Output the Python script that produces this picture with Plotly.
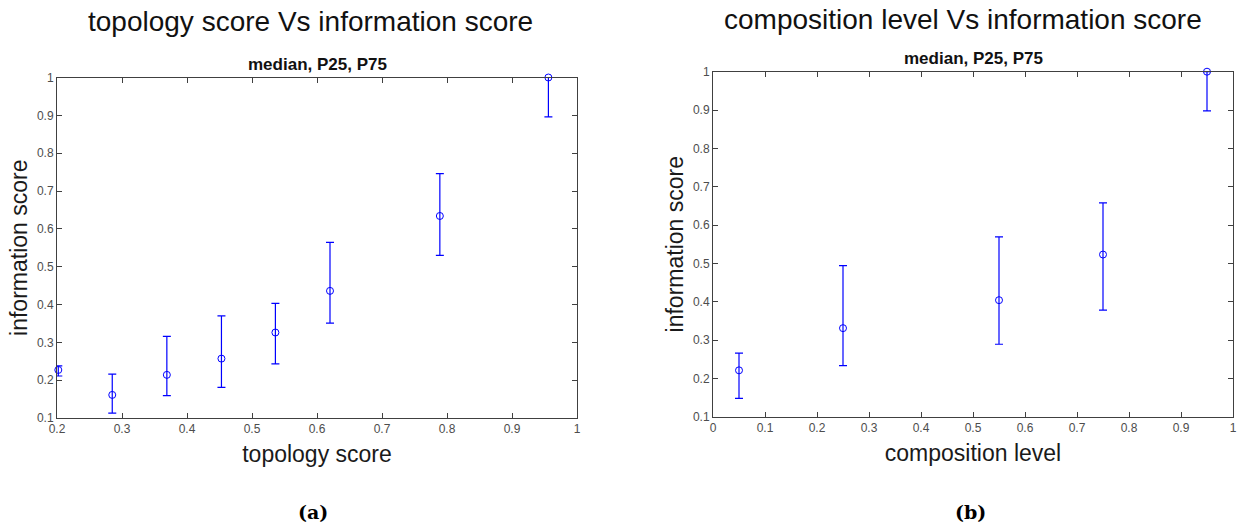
import plotly.graph_objects as go

W, H = 1238, 525

# Left panel: topology score vs information score
topo_x = [0.202, 0.285, 0.369, 0.453, 0.536, 0.620, 0.789, 0.956]
topo_med = [0.227, 0.161, 0.214, 0.257, 0.326, 0.436, 0.634, 1.0]
topo_p25 = [0.211, 0.113, 0.159, 0.181, 0.243, 0.351, 0.530, 0.896]
topo_p75 = [0.238, 0.216, 0.316, 0.370, 0.403, 0.564, 0.746, 1.0]

# Right panel: composition level vs information score
comp_x = [0.05, 0.25, 0.55, 0.75, 0.95]
comp_med = [0.221, 0.331, 0.404, 0.523, 1.0]
comp_p25 = [0.148, 0.233, 0.289, 0.378, 0.898]
comp_p75 = [0.266, 0.494, 0.569, 0.658, 1.0]

x1_ticks = [0.2, 0.3, 0.4, 0.5, 0.6, 0.7, 0.8, 0.9, 1.0]
x2_ticks = [0, 0.1, 0.2, 0.3, 0.4, 0.5, 0.6, 0.7, 0.8, 0.9, 1.0]
y_ticks = [0.1, 0.2, 0.3, 0.4, 0.5, 0.6, 0.7, 0.8, 0.9, 1.0]

BLUE = "rgb(0,0,255)"
AXC = "#404040"


def px_x(p):
    return p / W


def px_y(p):
    return 1 - p / H


def trace(x, med, p25, p75, xa, ya):
    return go.Scatter(
        x=x, y=med, mode="markers", xaxis=xa, yaxis=ya,
        marker=dict(symbol="circle-open", size=7, color=BLUE, line=dict(width=1, color=BLUE)),
        error_y=dict(type="data", symmetric=False,
                     array=[a - m for a, m in zip(p75, med)],
                     arrayminus=[m - b for m, b in zip(med, p25)],
                     color=BLUE, thickness=1.2, width=4),
        cliponaxis=False, showlegend=False,
    )


fig = go.Figure()
fig.add_trace(trace(topo_x, topo_med, topo_p25, topo_p75, "x", "y"))
fig.add_trace(trace(comp_x, comp_med, comp_p25, comp_p75, "x2", "y2"))

axis_common = dict(
    automargin=False,
    showgrid=False, zeroline=False, showline=True, linecolor=AXC, linewidth=1,
    mirror="ticks", ticks="inside", ticklen=5, tickcolor=AXC, tickwidth=1,
    tickfont=dict(family="Liberation Sans, Arial", size=12, color="#4d4d4d"),
    title_font=dict(family="Liberation Sans, Arial", size=23, color="#1a1a1a"),
)

fig.update_layout(
    width=W, height=H, margin=dict(l=0, r=0, t=0, b=0, autoexpand=False),
    paper_bgcolor="white", plot_bgcolor="white",
    xaxis=dict(domain=[px_x(57), px_x(577)], range=[0.2, 1.0], tickvals=x1_ticks,
               anchor="y", title=dict(text="topology score", standoff=10), **axis_common),
    yaxis=dict(domain=[px_y(418), px_y(77.5)], range=[0.1, 1.0], tickvals=y_ticks,
               anchor="x", title=dict(text="information score", standoff=2), **axis_common),
    xaxis2=dict(domain=[px_x(713), px_x(1233)], range=[0, 1.0], tickvals=x2_ticks,
                anchor="y2", title=dict(text="composition level", standoff=10), **axis_common),
    yaxis2=dict(domain=[px_y(416.7), px_y(71.7)], range=[0.1, 1.0], tickvals=y_ticks,
                anchor="x2", title=dict(text="information score", standoff=2), **axis_common),
)

anns = [
    ("topology score Vs information score", 310, 22, 28, "Liberation Sans, Arial", "#111"),
    ("composition level Vs information score", 963, 19, 28, "Liberation Sans, Arial", "#111"),
    ("<b>median, P25, P75</b>", 317, 64, 17, "Liberation Sans, Arial", "#111"),
    ("<b>median, P25, P75</b>", 973, 58, 17, "Liberation Sans, Arial", "#111"),
    ("<b>(a)</b>", 313, 512, 19, "DejaVu Serif", "#000"),
    ("<b>(b)</b>", 970, 512, 19, "DejaVu Serif", "#000"),
]
for text, x, y, size, fam, col in anns:
    fig.add_annotation(text=text, x=px_x(x), y=px_y(y), xref="paper", yref="paper",
                       xanchor="center", yanchor="middle", showarrow=False,
                       font=dict(family=fam, size=size, color=col))

fig.write_html("out.html")
